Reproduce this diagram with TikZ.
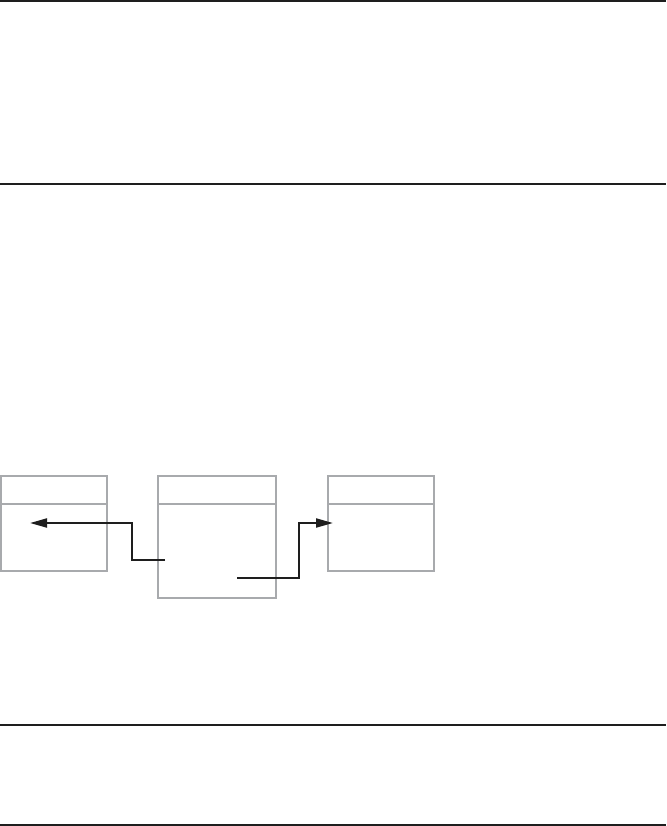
\documentclass[tikz,border=0pt]{standalone}
\usepackage{tikz}
\usetikzlibrary{arrows.meta}

\definecolor{boxgray}{RGB}{168,170,173}
\definecolor{rulegray}{RGB}{30,30,30}

\tikzset{
  rule/.style={rulegray, line width=2pt},
  frame/.style={draw=boxgray, line width=1.6pt, inner sep=0pt, outer sep=0pt, anchor=north west},
  head/.style={boxgray, line width=1.6pt},
  link/.style={rulegray, line width=2pt, -{Triangle[length=17pt,width=9pt]}}
}

\begin{document}
\begin{tikzpicture}[x=1pt, y=-1pt]
\useasboundingbox (0,0) rectangle (666,826);

% rules
\coordinate (r1w) at (0,1);    \coordinate (r1e) at (666,1);
\coordinate (r2w) at (0,184);  \coordinate (r2e) at (666,184);
\coordinate (r3w) at (0,725);  \coordinate (r3e) at (666,725);
\coordinate (r4w) at (0,825);  \coordinate (r4e) at (666,825);
\draw[rule] (r1w) -- (r1e);
\draw[rule] (r2w) -- (r2e);
\draw[rule] (r3w) -- (r3e);
\draw[rule] (r4w) -- (r4e);

% boxes
\node[frame, minimum width=106pt, minimum height=95pt]  (left)   at (1,476)   {};
\node[frame, minimum width=118pt, minimum height=122pt] (middle) at (158,476) {};
\node[frame, minimum width=106pt, minimum height=95pt]  (right)  at (328,476) {};

\foreach \b in {left,middle,right}
  \draw[head] ([yshift=-28pt]\b.north west) -- ([yshift=-28pt]\b.north east);

% links
\coordinate (outL) at (165,560);
\coordinate (bendL) at (132,560);
\coordinate (inL) at (30,523);
\draw[link] (outL) -- (bendL) |- (inL);

\coordinate (outR) at (237,578);
\coordinate (bendR) at (299,578);
\coordinate (inR) at (333,523);
\draw[link] (outR) -- (bendR) |- (inR);

\end{tikzpicture}
\end{document}
